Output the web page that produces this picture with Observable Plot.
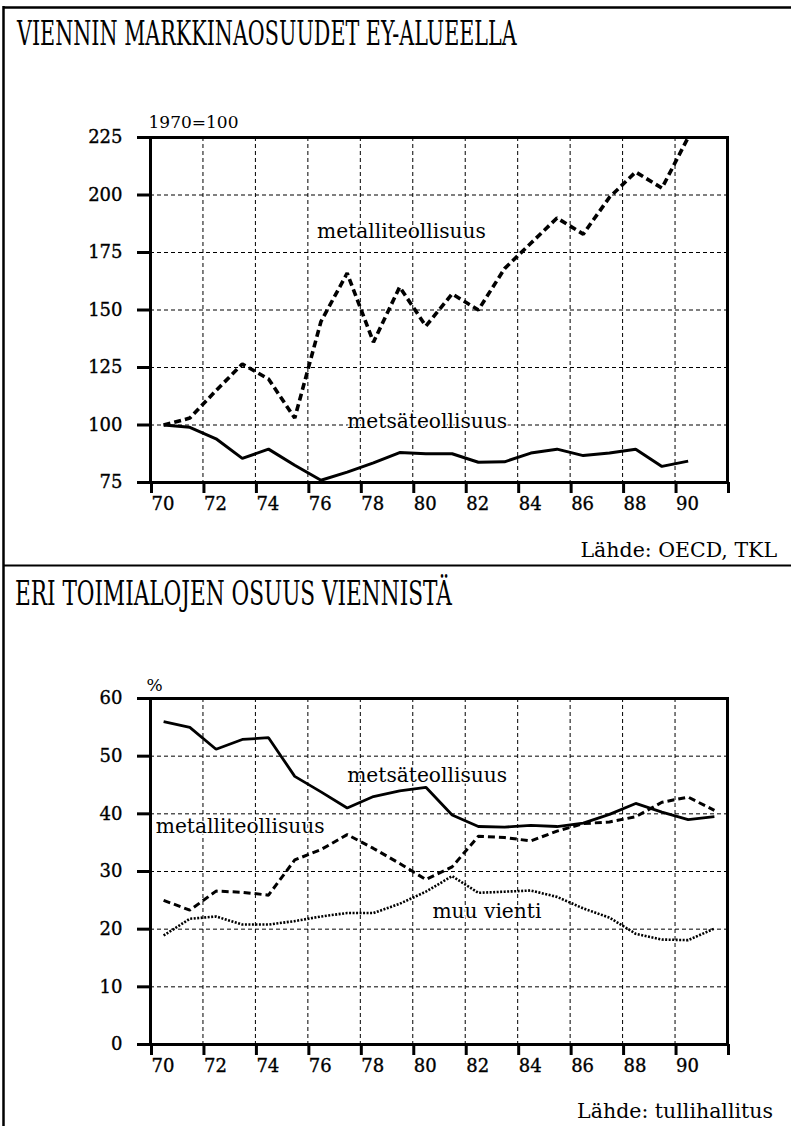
<!DOCTYPE html>
<html><head><meta charset="utf-8">
<script src="https://cdn.jsdelivr.net/npm/d3@7"></script>
<script src="https://cdn.jsdelivr.net/npm/@observablehq/plot@0.6"></script>
<style>
html,body{margin:0;padding:0;background:#fff;}
#page{position:relative;width:791px;height:1126px;overflow:hidden;background:#fff;font-family:"DejaVu Serif",serif;color:#000;}
#page > svg{position:absolute;left:0;}
#page g[aria-label$="tick label"] text{stroke:#000;stroke-width:0.35px;}
</style></head><body><div id="page"></div>
<script>
// ---------- Data ----------
const title1 = "VIENNIN MARKKINAOSUUDET EY-ALUEELLA";
const title2 = "ERI TOIMIALOJEN OSUUS VIENNISTÄ";
const source1 = "Lähde: OECD, TKL";
const source2 = "Lähde: tullihallitus";
const unit1 = "1970=100";
const unit2 = "%";

const years1 = [1970,1971,1972,1973,1974,1975,1976,1977,1978,1979,1980,1981,1982,1983,1984,1985,1986,1987,1988,1989,1990];
const metsa1 = [100,99,94,85.5,89.5,82.5,76,79.5,83.5,88,87.5,87.5,83.8,84,87.8,89.5,86.7,87.8,89.5,82,84.3];
const metalli1 = [100,103,115,126.5,120,103,145,166,136,160,143,157,150,168,179,190,183,199,210,203,225];

const years2 = [1970,1971,1972,1973,1974,1975,1976,1977,1978,1979,1980,1981,1982,1983,1984,1985,1986,1987,1988,1989,1990,1991];
const metsa2 = [56,55,51.2,52.9,53.2,46.5,43.8,41,43,44,44.6,39.8,37.8,37.7,38,37.8,38.4,39.9,41.8,40.3,39,39.5];
const metalli2 = [25,23.3,26.6,26.4,25.9,32,33.8,36.4,34,31.4,28.6,30.8,36.1,35.9,35.3,37,38.3,38.6,39.5,42,42.9,40.6];
const muu2 = [18.9,21.8,22.2,20.8,20.8,21.4,22.2,22.8,22.8,24.4,26.5,29.2,26.3,26.5,26.7,25.6,23.6,22,19.2,18.2,18.1,20.1];

const xTicks = [1970,1972,1974,1976,1978,1980,1982,1984,1986,1988,1990,1992];
const yTicks1 = [75,100,125,150,175,200,225];
const yTicks2 = [0,10,20,30,40,50,60];

const labels1 = [
  {text: "metalliteollisuus", year: 1976.35, value: 181.5},
  {text: "metsäteollisuus", year: 1977.5, value: 98.8}
];
const labels2 = [
  {text: "metsäteollisuus", year: 1977.5, value: 45.6},
  {text: "metalliteollisuus", year: 1970.2, value: 36.7},
  {text: "muu vienti", year: 1980.75, value: 22.0}
];

// annual values plotted at mid-year
const rows = (years, vals) => years.map((y, i) => ({x: y + 0.5, v: vals[i]}));

const page = document.getElementById("page");
const FONT = "DejaVu Serif";
const grid = {stroke: "#000", strokeOpacity: 1, strokeWidth: 1, strokeDasharray: "4,3"};

function chart({top, height, marginTop, marginBottom, yDomain, yTicks, unit, unitDy, unitDx, lines, labels}) {
  const svg = Plot.plot({
    width: 791, height, marginLeft: 150, marginRight: 64, marginTop, marginBottom,
    x: {domain: [1970, 1992]},
    y: {domain: yDomain},
    style: {fontFamily: FONT, fontSize: "18px", color: "#000", background: "transparent", overflow: "visible"},
    marks: [
      Plot.gridX(xTicks.slice(1, -1), grid),
      Plot.gridY(yTicks.slice(1, -1), grid),
      ...lines.map(l => Plot.line(l.data, {x: "x", y: "v", stroke: "#000", strokeWidth: l.w, strokeDasharray: l.dash, strokeLinejoin: "miter", strokeLinecap: "butt"})),
      Plot.frame({stroke: "#000", strokeWidth: 3}),
      Plot.axisY(yTicks, {tickSize: 13, tickPadding: 15, strokeWidth: 3, fontSize: 18, label: null}),
      Plot.axisX(xTicks, {tickSize: 11, tickPadding: 4, strokeWidth: 3, fontSize: 18, textAnchor: "start", dx: 1, label: null,
        tickFormat: d => d === 1992 ? "" : String(d).slice(2)}),
      Plot.text([unit], {frameAnchor: "top-left", text: d => d, textAnchor: "start", lineAnchor: "bottom", dy: unitDy, dx: unitDx, fontSize: 17}),
      Plot.text(labels, {x: "year", y: "value", text: "text", textAnchor: "start", lineAnchor: "bottom", fontSize: 20.2,
        stroke: "#fff", strokeWidth: 3, fill: "#000"})
    ]
  });
  svg.style.top = top + "px";
  page.appendChild(svg);
}

chart({
  top: 100, height: 420, marginTop: 37, marginBottom: 38,
  yDomain: [75, 225], yTicks: yTicks1, unit: unit1, unitDy: -10, unitDx: -2,
  lines: [
    {data: rows(years1, metalli1), w: 3.6, dash: "7,4"},
    {data: rows(years1, metsa1), w: 3, dash: null}
  ],
  labels: labels1
});

chart({
  top: 660, height: 440, marginTop: 38, marginBottom: 56,
  yDomain: [0, 60], yTicks: yTicks2, unit: unit2, unitDy: -8, unitDx: -4,
  lines: [
    {data: rows(years2, metalli2), w: 3, dash: "7,4"},
    {data: rows(years2, muu2), w: 2.6, dash: "2,1.5"},
    {data: rows(years2, metsa2), w: 2.8, dash: null}
  ],
  labels: labels2
});

// ---------- overlay: frame, titles, sources ----------
const ov = d3.select(page).append("svg")
  .attr("width", 791).attr("height", 1126)
  .style("top", "0px").style("font-family", FONT);
ov.append("line").attr("x1", 3).attr("x2", 791).attr("y1", 7.5).attr("y2", 7.5).attr("stroke", "#000").attr("stroke-width", 2.5);
ov.append("line").attr("x1", 3.5).attr("x2", 3.5).attr("y1", 6).attr("y2", 1126).attr("stroke", "#000").attr("stroke-width", 2.5);
ov.append("line").attr("x1", 3).attr("x2", 791).attr("y1", 565.5).attr("y2", 565.5).attr("stroke", "#000").attr("stroke-width", 2);

function condensedTitle(txt, x, y, width) {
  const t = ov.append("text").attr("font-size", 34).attr("x", 0).attr("y", 0).text(txt);
  const w = t.node().getComputedTextLength();
  t.attr("transform", `translate(${x},${y}) scale(${width / w},1)`);
}
condensedTitle(title1, 17, 45, 500);
condensedTitle(title2, 15, 605, 437);

ov.append("text").attr("x", 777).attr("y", 557).attr("font-size", 20.5).attr("text-anchor", "end").text(source1);
ov.append("text").attr("x", 773).attr("y", 1118).attr("font-size", 20.5).attr("text-anchor", "end").text(source2);
</script>
</body></html>
